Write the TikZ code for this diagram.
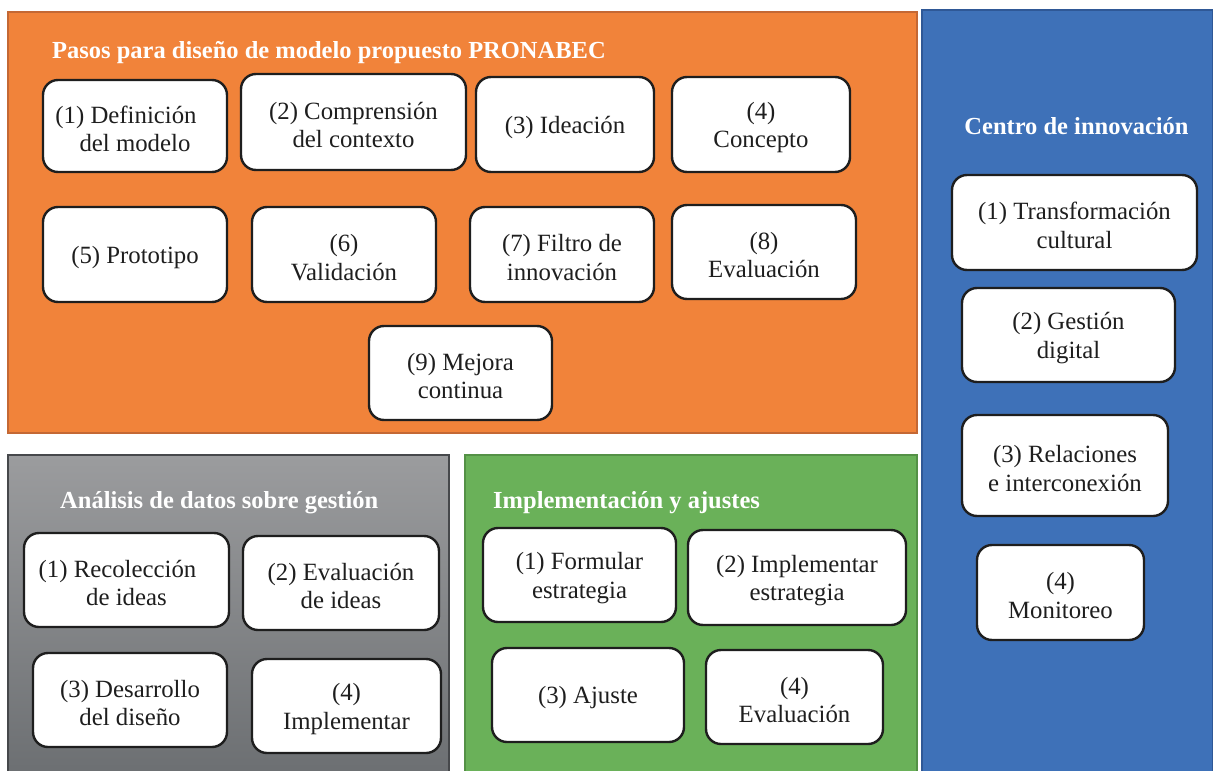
\documentclass[tikz,border=0pt]{standalone}
\usepackage{fontspec}
\setmainfont{Liberation Serif}
\definecolor{orangeP}{RGB}{241,131,58}
\definecolor{orangeB}{RGB}{196,104,52}
\definecolor{blueP}{RGB}{62,113,184}
\definecolor{blueB}{RGB}{47,88,150}
\definecolor{greenP}{RGB}{106,177,89}
\definecolor{greenB}{RGB}{84,145,70}
\definecolor{grayTop}{RGB}{155,156,158}
\definecolor{grayBot}{RGB}{108,111,114}
\definecolor{grayB}{RGB}{70,72,75}
\definecolor{ink}{RGB}{30,30,30}
\tikzset{
  panel/.style={line width=1.5pt},
  stepbox/.style={draw=ink, fill=white, line width=2.4pt, rounded corners=15pt,
    align=center, text=ink, inner sep=0pt, font=\fontsize{24.8}{28.5}\selectfont},
  ptitle/.style={text=white, font=\fontsize{24.5}{27}\selectfont\bfseries, inner sep=0pt}
}
\newcommand{\stepnode}[6]{% name, x1,y1,x2,y2, text
  \node[stepbox, minimum width=#4pt-#2pt, minimum height=#5pt-#3pt] (#1) at ({(#2+#4)/2},{(#3+#5)/2}) {\rule{0pt}{23pt}#6};}
\begin{document}
\begin{tikzpicture}[x=1pt,y=-1pt]
\useasboundingbox (0,0) rectangle (1213,771);
% panels
\filldraw[panel, fill=orangeP, draw=orangeB] (8,12) rectangle (917,433);
\filldraw[panel, fill=blueP, draw=blueB] (922,10) rectangle (1213,775);
\shade[top color=grayTop, bottom color=grayBot] (8,455) rectangle (449,775);
\draw[panel, draw=grayB] (8,455) rectangle (449,775);
\filldraw[panel, fill=greenP, draw=greenB] (465,455) rectangle (917,775);
% titles
\node[ptitle, anchor=base west] (t1) at (52,58) {Pasos para diseño de modelo propuesto PRONABEC};
\node[ptitle, anchor=base] (t2) at (1076.5,134) {Centro de innovación};
\node[ptitle, anchor=base west] (t3) at (60,508) {Análisis de datos sobre gestión};
\node[ptitle, anchor=base west] (t4) at (493,508) {Implementación y ajustes};
% orange boxes
\stepnode{o1}{43}{80}{227}{172}{\hspace*{-18pt}(1) Definición\\del modelo}
\stepnode{o2}{241}{74}{466}{170}{(2) Comprensión\\del contexto}
\stepnode{o3}{476}{77}{654}{172}{(3) Ideación}
\stepnode{o4}{672}{77}{850}{172}{(4)\\Concepto}
\stepnode{o5}{43}{207}{227}{302}{(5) Prototipo}
\stepnode{o6}{252}{207}{436}{302}{(6)\\Validación}
\stepnode{o7}{470}{207}{654}{302}{(7) Filtro de\\innovación}
\stepnode{o8}{672}{205}{856}{299}{(8)\\Evaluación}
\stepnode{o9}{369}{326}{552}{420}{(9) Mejora\\continua}
% blue boxes
\stepnode{b1}{952}{175}{1197}{270}{(1) Transformación\\cultural}
\stepnode{b2}{962}{288}{1175}{382}{(2) Gestión\\digital}
\stepnode{b3}{962}{415}{1168}{516}{(3) Relaciones\\e interconexión}
\stepnode{b4}{977}{545}{1144}{640}{(4)\\Monitoreo}
% gray boxes
\stepnode{g1}{24}{533}{229}{627}{\hspace*{-18pt}(1) Recolección\\de ideas}
\stepnode{g2}{243}{536}{439}{630}{(2) Evaluación\\de ideas}
\stepnode{g3}{33}{653}{227}{747}{(3) Desarrollo\\del diseño}
\stepnode{g4}{252}{659}{441}{753}{(4)\\Implementar}
% green boxes
\stepnode{e1}{483}{528}{676}{622}{(1) Formular\\estrategia}
\stepnode{e2}{688}{530}{906}{625}{(2) Implementar\\estrategia}
\stepnode{e3}{492}{648}{684}{742}{(3) Ajuste}
\stepnode{e4}{706}{650}{883}{744}{(4)\\Evaluación}
\end{tikzpicture}
\end{document}
